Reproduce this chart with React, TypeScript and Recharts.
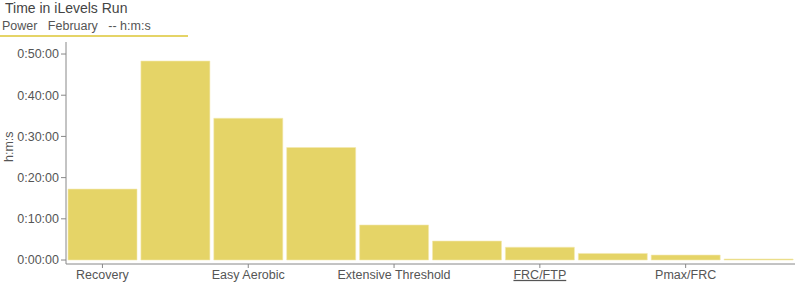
import React from "react";
import { BarChart, Bar, XAxis, YAxis } from "recharts";

const zones = [
  "Recovery",
  "Endurance",
  "Easy Aerobic",
  "Tempo",
  "Extensive Threshold",
  "Intensive Threshold",
  "FRC/FTP",
  "FRC",
  "Pmax/FRC",
  "Pmax",
];
// time in zone, seconds
const seconds = [1033, 2898, 2064, 1638, 510, 276, 186, 96, 72, 15];
const yTicks = [0, 600, 1200, 1800, 2400, 3000];

const data = zones.map((z, i) => ({ zone: z, time: seconds[i] }));

const pad = (n: number) => (n < 10 ? "0" + n : "" + n);
const fmt = (s: number) => {
  const h = Math.floor(s / 3600);
  const m = Math.floor((s % 3600) / 60);
  const sec = Math.round(s % 60);
  return `${h}:${pad(m)}:${pad(sec)}`;
};

const FONT = "'Liberation Sans', Arial, Helvetica, sans-serif";

const XTick = (props: any) => {
  const { x, y, payload } = props;
  const underline = payload.value === "FRC/FTP";
  return (
    <text
      x={x}
      y={y}
      dy="0.71em"
      textAnchor="middle"
      fill="#555"
      fontSize={12.5}
      fontFamily={FONT}
      style={underline ? { textDecoration: "underline" } : undefined}
    >
      {payload.value}
    </text>
  );
};

export default function App() {
  return (
    <div style={{ position: "absolute", left: 0, top: 0, width: 800, height: 283, background: "#fff", fontFamily: FONT }}>
      <div style={{ position: "absolute", left: 5, top: 0, fontSize: 14, color: "#444", lineHeight: "16px" }}>
        Time in iLevels Run
      </div>
      <div style={{ position: "absolute", left: 2, top: 19, fontSize: 12.5, color: "#555", lineHeight: "15px", whiteSpace: "pre" }}>
        {"Power   February   -- h:m:s"}
      </div>
      <div style={{ position: "absolute", left: 0, top: 35, width: 188, height: 2, background: "#e5d467" }} />
      <div
        style={{
          position: "absolute",
          left: -6,
          top: 140,
          fontSize: 12.5,
          color: "#555",
          transform: "rotate(-90deg)",
          transformOrigin: "center",
          width: 30,
          height: 14,
          textAlign: "center",
          lineHeight: "14px",
        }}
      >
        h:m:s
      </div>
      <BarChart
        width={800}
        height={283}
        data={data}
        margin={{ top: 42, right: 5, bottom: 0, left: 0 }}
        barCategoryGap={2}
        style={{ position: "absolute", left: 0, top: 0 }}
      >
        <XAxis
          dataKey="zone"
          interval={1}
          height={19}
          tickSize={4}
          tickMargin={2}
          stroke="#888"
          tick={<XTick />}
        />
        <YAxis
          width={66}
          domain={[-58, 3175]}
          allowDataOverflow
          ticks={yTicks}
          tickFormatter={fmt}
          tickSize={5}
          tickMargin={2}
          stroke="#888"
          tick={{ fill: "#555", fontSize: 12.5, fontFamily: FONT }}
        />
        <Bar dataKey="time" fill="#e5d467" stroke="#f3eab0" strokeWidth={0.6} isAnimationActive={false} />
      </BarChart>
    </div>
  );
}
